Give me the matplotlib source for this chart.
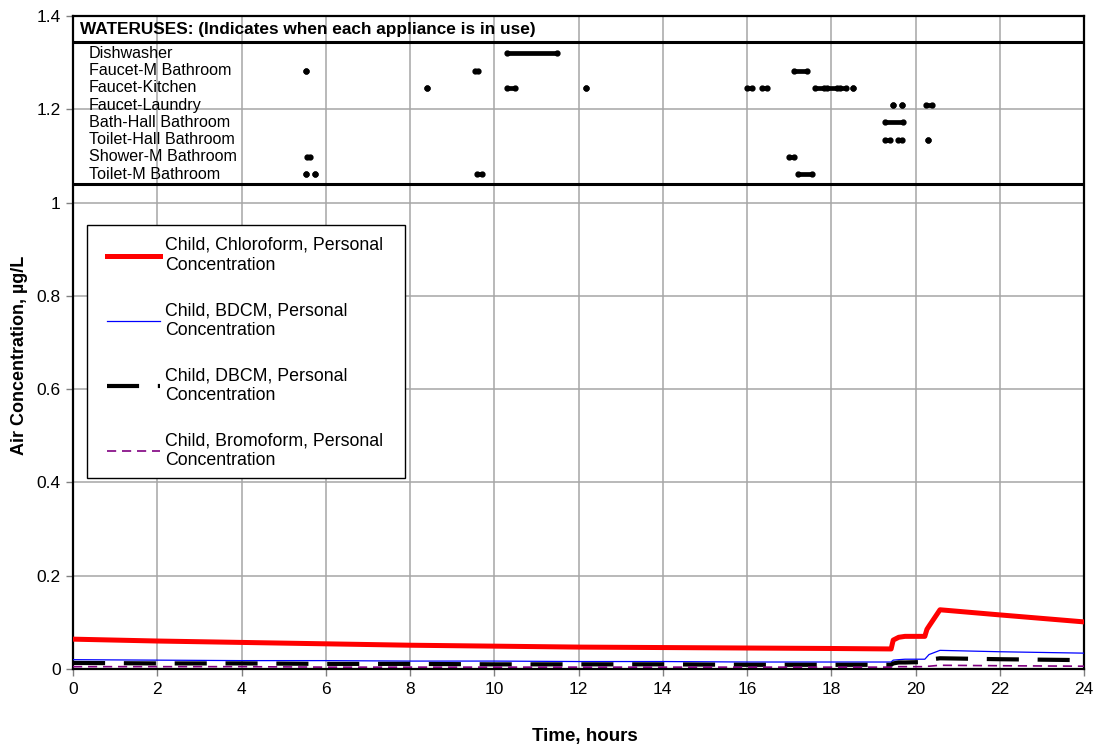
import matplotlib
matplotlib.use('Agg')
import matplotlib.pyplot as plt
from matplotlib.patches import Rectangle
import numpy as np

plt.rcParams['font.family'] = ['Liberation Sans', 'DejaVu Sans']

time = [0., 2., 4., 6., 8., 10., 12., 14., 16., 18., 19.42, 19.47, 19.6, 19.75,
        20.22, 20.27, 20.32, 20.58, 22., 24.]
chloroform = [0.064, 0.060, 0.057, 0.054, 0.051, 0.049, 0.047, 0.046, 0.045, 0.044,
              0.043, 0.062, 0.068, 0.070, 0.070, 0.085, 0.092, 0.127, 0.116, 0.101]
bdcm = [0.020, 0.019, 0.018, 0.018, 0.017, 0.017, 0.016, 0.016, 0.015, 0.015,
        0.015, 0.019, 0.020, 0.021, 0.021, 0.026, 0.031, 0.040, 0.037, 0.034]
dbcm = [0.013, 0.012, 0.012, 0.011, 0.011, 0.010, 0.010, 0.010, 0.009, 0.009,
        0.009, 0.012, 0.014, 0.014, 0.015, 0.017, 0.020, 0.023, 0.021, 0.019]
bromoform = [0.005, 0.005, 0.005, 0.004, 0.004, 0.004, 0.004, 0.004, 0.004, 0.004,
             0.004, 0.005, 0.005, 0.005, 0.005, 0.006, 0.006, 0.008, 0.007, 0.006]

series_labels = ['Child, Chloroform, Personal\nConcentration',
                 'Child, BDCM, Personal\nConcentration',
                 'Child, DBCM, Personal\nConcentration',
                 'Child, Bromoform, Personal\nConcentration']

# water uses: (start, end) in hours, a single dot when start == end
appliances = ['Dishwasher', 'Faucet-M Bathroom', 'Faucet-Kitchen', 'Faucet-Laundry',
              'Bath-Hall Bathroom', 'Toilet-Hall Bathroom', 'Shower-M Bathroom',
              'Toilet-M Bathroom']
uses = [
    [(10.31, 11.50)],                                               # Dishwasher
    [(5.53, 5.53), (9.55, 9.62), (17.12, 17.42)],                   # Faucet-M Bathroom
    [(8.40, 8.40), (10.30, 10.48), (12.18, 12.18), (16.00, 16.12),
     (16.35, 16.48), (17.62, 17.82), (17.90, 18.14), (18.20, 18.34),
     (18.52, 18.52)],                                               # Faucet-Kitchen
    [(19.47, 19.47), (19.67, 19.67), (20.25, 20.40)],               # Faucet-Laundry
    [(19.28, 19.70)],                                               # Bath-Hall Bathroom
    [(19.28, 19.40), (19.58, 19.68), (20.30, 20.30)],               # Toilet-Hall Bathroom
    [(5.55, 5.62), (17.00, 17.12)],                                 # Shower-M Bathroom
    [(5.53, 5.53), (5.74, 5.74), (9.60, 9.70), (17.22, 17.55)],     # Toilet-M Bathroom
]

fig = plt.figure(figsize=(10.98, 7.49), dpi=100)
ax = fig.add_axes([0.0665, 0.1068, 0.9208, 0.8718])

ax.plot(time, chloroform, color='#ff0000', lw=3.6, label=series_labels[0], zorder=5)
ax.plot(time, bdcm, color='#0000ff', lw=0.9, label=series_labels[1], zorder=5)
ax.plot(time, dbcm, color='black', lw=3.0, dashes=(7.7, 4.5), label=series_labels[2], zorder=5)
ax.plot(time, bromoform, color='#800080', lw=1.2, dashes=(5.5, 3.5), label=series_labels[3], zorder=5)

# water use box
box_top = 1.345
box_bot = 1.04
ax.axhline(box_top, color='black', lw=2.2, zorder=4)
ax.axhline(box_bot, color='black', lw=2.2, zorder=4)
ax.text(0.17, 1.372, 'WATERUSES: (Indicates when each appliance is in use)',
        fontsize=12.4, fontweight='bold', ha='left', va='center', zorder=6)
for i, name in enumerate(appliances):
    y = 1.32 - i*0.0370
    ax.text(0.38, y, name, fontsize=11.6, ha='left', va='center', zorder=1)
    for (t0, t1) in uses[i]:
        ax.plot([t0, t1], [y, y], color='black', lw=3.4, solid_capstyle='round',
                marker='o', ms=3.5, zorder=6)

ax.set_xlim(0, 24)
ax.set_ylim(0, 1.4)
ax.set_xticks(np.arange(0, 25, 2))
ax.set_yticks(np.arange(0, 1.41, 0.2))
ax.set_yticklabels(['%g' % round(v, 1) for v in np.arange(0, 1.41, 0.2)])
ax.tick_params(direction='out', length=5, width=1, color='#808080', labelsize=12.5, pad=4)
ax.grid(True, color='#a6a6a6', lw=1.1)
ax.set_axisbelow(True)
for s in ax.spines.values():
    s.set_color('black')
    s.set_linewidth(1.6)

ax.set_xlabel('Time, hours', fontsize=13.5, fontweight='bold')
ax.xaxis.set_label_coords(0.5064, -0.09)
fig.text(0.0175, 0.525, 'Air Concentration, \u00b5g/L', fontsize=13, fontweight='bold',
         rotation=90, ha='center', va='center')

# legend frame drawn separately so that side padding can differ from top padding
ax.add_patch(Rectangle((0.0138, 0.2925), 0.3146, 0.3875, transform=ax.transAxes,
                       facecolor='white', edgecolor='black', lw=1.0, zorder=6.5))
leg = ax.legend(loc='upper left', bbox_to_anchor=(0.0336, 0.6616), borderaxespad=0,
                fontsize=12.8, frameon=False, handlelength=2.98, handletextpad=0.3,
                labelspacing=1.6, borderpad=0)
leg.set_zorder(7)

plt.savefig('out.png', dpi=100)
